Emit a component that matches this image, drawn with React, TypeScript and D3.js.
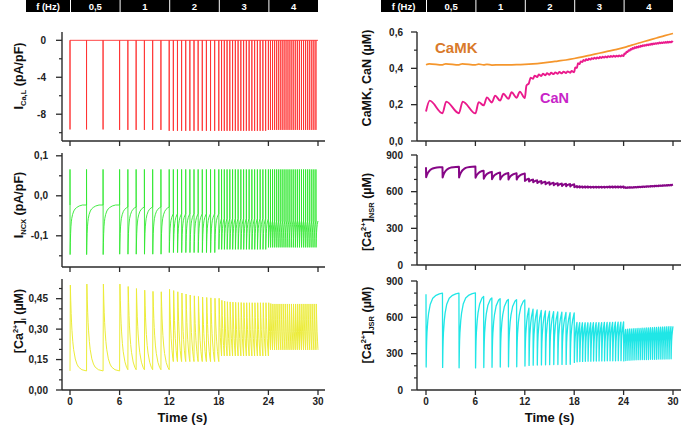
import React from 'react';
import * as d3 from 'd3';

type Pt = [number, number];

// stimulation protocol
const segStarts = [0, 6, 12, 18, 24];
const segFreqs = [0.5, 1, 2, 3, 4];
const freqLabels = ['0,5', '1', '2', '3', '4'];
const timeTicks = [0, 6, 12, 18, 24, 30];
const tEnd = 30;

// I_CaL: spike minimum for each frequency step
const icalPeak = [-9.65, -9.7, -9.8, -9.8, -9.7];

// I_NCX: spike top, spike bottom and level reached before the next beat
const ncxMax = [0.066, 0.066, 0.066, 0.066, 0.066];
const ncxMin = [-0.147, -0.146, -0.142, -0.134, -0.129];
const ncxRest = [-0.023, -0.028, -0.045, -0.057, -0.063];
const ncxRecT = [0, 0.03, 0.06, 0.1, 0.15, 0.2, 0.3, 0.45, 0.6, 0.8, 1.1, 1.5, 2.0];
const ncxRecF = [0, 0.25, 0.42, 0.56, 0.66, 0.73, 0.81, 0.88, 0.92, 0.95, 0.98, 1, 1];

// [Ca2+]i: peak of every beat, diastolic level per step
const caiPeak = [
  [0.517, 0.522, 0.522],
  [0.522, 0.51, 0.5, 0.492, 0.486, 0.484],
  [0.496, 0.49, 0.484, 0.478, 0.473, 0.468, 0.464, 0.461, 0.458, 0.456, 0.454, 0.452],
  [0.452, 0.442, 0.438, 0.435, 0.434, 0.433, 0.432, 0.431, 0.431, 0.43, 0.43, 0.43, 0.43, 0.43, 0.43, 0.43, 0.43, 0.43],
  [0.43, 0.426, 0.424, 0.424, 0.424, 0.424, 0.424, 0.424, 0.424, 0.424, 0.424, 0.424, 0.424, 0.424, 0.424, 0.424, 0.424, 0.424, 0.424, 0.424, 0.424, 0.424, 0.424, 0.424],
];
const caiTrough = [0.094, 0.1, 0.14, 0.168, 0.198];
const caiRelT = [0, 0.05, 0.1, 0.15, 0.2, 0.3, 0.4, 0.6, 0.8, 1.0, 1.4, 2.0];
const caiRelF = [0, 0.18, 0.33, 0.44, 0.53, 0.66, 0.75, 0.86, 0.92, 0.955, 0.985, 1];

// CaMK trace
const camkT = [0, 0.4, 2, 2.4, 4, 4.4, 6, 6.4, 7, 7.4, 8, 9, 10, 11, 12, 13, 14, 15, 16, 17, 18, 19, 20, 21, 22, 23, 24, 25, 26, 27, 28, 29, 30];
const camkV = [0.42, 0.425, 0.419, 0.425, 0.419, 0.425, 0.419, 0.423, 0.419, 0.422, 0.418, 0.419, 0.419, 0.42, 0.422, 0.425, 0.429, 0.434, 0.44, 0.446, 0.454, 0.463, 0.473, 0.483, 0.493, 0.503, 0.514, 0.528, 0.541, 0.554, 0.567, 0.58, 0.592];

// CaN: level before each beat and its peak
const canRise = [0.45, 0.4, 0.2, 0.12, 0.1];
const canPre = [
  [0.162, 0.153, 0.153],
  [0.152, 0.196, 0.212, 0.222, 0.232, 0.238],
  [0.236, 0.318, 0.343, 0.352, 0.358, 0.362, 0.365, 0.368, 0.37, 0.372, 0.374, 0.376],
  [0.378, 0.402, 0.424, 0.435, 0.441, 0.445, 0.448, 0.451, 0.453, 0.455, 0.457, 0.459, 0.46, 0.462, 0.463, 0.464, 0.465, 0.466],
  [0.468, 0.48, 0.49, 0.497, 0.503, 0.508, 0.512, 0.515, 0.518, 0.521, 0.523, 0.525, 0.527, 0.529, 0.531, 0.533, 0.535, 0.536, 0.538, 0.539, 0.54, 0.541, 0.542, 0.543],
];
const canPeak = [
  [0.222, 0.217, 0.217],
  [0.214, 0.24, 0.25, 0.26, 0.268, 0.272],
  [0.305, 0.348, 0.36, 0.366, 0.37, 0.373, 0.376, 0.378, 0.38, 0.382, 0.383, 0.385],
  [0.405, 0.428, 0.438, 0.446, 0.45, 0.453, 0.456, 0.458, 0.46, 0.462, 0.464, 0.465, 0.467, 0.468, 0.469, 0.47, 0.471, 0.472],
  [0.482, 0.492, 0.5, 0.507, 0.512, 0.516, 0.519, 0.522, 0.525, 0.527, 0.529, 0.531, 0.533, 0.535, 0.537, 0.539, 0.54, 0.542, 0.543, 0.544, 0.545, 0.546, 0.547, 0.548],
];
const canFinal = 0.545;

// [Ca2+]NSR: value before each beat and just after it
const nsrPre = [
  [800, 800, 803],
  [805, 772, 762, 756, 752, 750],
  [748, 706, 699, 693, 687, 682, 677, 673, 669, 666, 664, 662],
  [660, 646, 644, 643, 642, 642, 641, 641, 641, 641, 641, 641, 641, 642, 642, 642, 642, 642],
  [642, 636, 636, 637, 637, 638, 639, 640, 641, 642, 643, 644, 645, 646, 647, 648, 649, 650, 651, 652, 653, 654, 655, 656],
];
const nsrPost = [
  [718, 716, 716],
  [714, 706, 702, 700, 700, 700],
  [688, 684, 677, 671, 666, 661, 657, 653, 650, 647, 645, 643],
  [636, 634, 634, 633, 633, 633, 633, 633, 633, 633, 633, 633, 634, 634, 634, 634, 634, 634],
  [632, 630, 631, 631, 632, 633, 634, 635, 636, 637, 638, 639, 640, 641, 642, 643, 644, 645, 646, 647, 648, 649, 650, 651],
];
const nsrFinal = 658;
const nsrRecT = [0, 0.05, 0.1, 0.2, 0.3, 0.45, 0.6, 0.8, 1.0, 1.3, 1.6, 2.0];
const nsrRecF = [0, 0.13, 0.25, 0.42, 0.55, 0.69, 0.79, 0.88, 0.93, 0.97, 0.99, 1];

// [Ca2+]JSR: value before each beat and just after release
const jsrPre = [
  [790, 800, 800],
  [802, 772, 760, 753, 748, 746],
  [744, 675, 668, 662, 657, 653, 650, 647, 644, 642, 640, 638],
  [636, 558, 556, 555, 555, 555, 555, 556, 556, 557, 557, 558, 558, 559, 559, 560, 560, 561],
  [562, 500, 502, 504, 505, 506, 507, 508, 509, 510, 511, 512, 513, 514, 515, 516, 517, 518, 519, 520, 521, 522, 523, 524],
];
const jsrPost = [
  [190, 186, 183],
  [182, 185, 188, 190, 191, 192],
  [198, 203, 205, 206, 207, 208, 209, 210, 210, 211, 211, 212],
  [228, 233, 235, 236, 237, 238, 238, 239, 239, 240, 240, 240, 241, 241, 241, 241, 242, 242],
  [240, 243, 245, 246, 247, 248, 249, 250, 250, 251, 251, 252, 252, 253, 253, 254, 254, 255, 255, 256, 256, 257, 257, 258],
];
const jsrFinal = 525;
const jsrRecT = [0, 0.03, 0.06, 0.1, 0.2, 0.3, 0.5, 0.8, 1.2, 1.6, 2.0];
const jsrRecF = [0, 0.22, 0.36, 0.47, 0.63, 0.73, 0.85, 0.93, 0.97, 0.99, 1];

// tick labels
const icalTicks = [0, -4, -8];
const icalMinor = [-2, -6, -10];
const ncxTicks = [0.1, 0, -0.1];
const ncxMinor = [0.05, -0.05, -0.15];
const caiTicks = [0, 0.15, 0.3, 0.45];
const caiMinor = [0.05, 0.1, 0.2, 0.25, 0.35, 0.4, 0.5];
const camTicks = [0, 0.2, 0.4, 0.6];
const camMinor = [0.1, 0.3, 0.5];
const srTicks = [0, 300, 600, 900];
const srMinor = [100, 200, 400, 500, 700, 800];

// ---- build traces ----
interface Beat { t: number; T: number; seg: number; i: number }
const beats: Beat[] = [];
segStarts.forEach((s, k) => {
  const n = Math.round(6 * segFreqs[k]);
  for (let i = 0; i < n; i++) beats.push({ t: s + i / segFreqs[k], T: 1 / segFreqs[k], seg: k, i });
});

function relax(out: Pt[], t0: number, t1: number, from: number, to: number, tt: number[], ff: number[]) {
  const F = d3.scaleLinear().domain(tt).range(ff).clamp(true);
  const fEnd = F(t1 - t0) || 1;
  for (const dt of tt) {
    if (dt > 0 && t0 + dt < t1 - 1e-6) out.push([t0 + dt, from + ((to - from) * F(dt)) / fEnd]);
  }
  out.push([t1, to]);
}

const icalPts: Pt[] = [];
beats.forEach(b => icalPts.push([b.t, 0], [b.t, icalPeak[b.seg]], [b.t, 0]));
icalPts.push([tEnd, 0]);

const ncxPts: Pt[] = [[0, ncxRest[0]]];
beats.forEach(b => {
  const tm = b.t + 0.012;
  ncxPts.push([b.t, ncxMax[b.seg]], [tm, ncxMin[b.seg]]);
  relax(ncxPts, tm, b.t + b.T, ncxMin[b.seg], ncxRest[b.seg], ncxRecT, ncxRecF);
});

const caiPts: Pt[] = [[0, caiTrough[0]]];
beats.forEach(b => {
  const tp = b.t + 0.04;
  const pk = caiPeak[b.seg][b.i];
  caiPts.push([tp, pk]);
  relax(caiPts, tp, b.t + b.T, pk, caiTrough[b.seg], caiRelT, caiRelF);
});

function srTrace(pre: number[][], post: number[][], fin: number, tt: number[], ff: number[]) {
  const preAll = pre.flat();
  const postAll = post.flat();
  const pts: Pt[] = [];
  beats.forEach((b, j) => {
    const next = j + 1 < beats.length ? preAll[j + 1] : fin;
    pts.push([b.t, preAll[j]], [b.t + 0.02, postAll[j]]);
    relax(pts, b.t + 0.02, b.t + b.T, postAll[j], next, tt, ff);
  });
  return pts;
}
const nsrPts = srTrace(nsrPre, nsrPost, nsrFinal, nsrRecT, nsrRecF);
const jsrPts = srTrace(jsrPre, jsrPost, jsrFinal, jsrRecT, jsrRecF);

const canPreAll = canPre.flat();
const canPeakAll = canPeak.flat();
const canPts: Pt[] = [];
beats.forEach((b, j) => {
  canPts.push([b.t, canPreAll[j]], [b.t + canRise[b.seg], canPeakAll[j]]);
});
canPts.push([tEnd, canFinal]);

const camkPts: Pt[] = camkT.map((t, i) => [t, camkV[i]]);

// ---- layout ----
const FONT = 'Arial, "Liberation Sans", sans-serif';
const AX = '#2a2a2a';
const xL = d3.scaleLinear().domain([0, tEnd]).range([70, 318]);
const xR = d3.scaleLinear().domain([0, tEnd]).range([426, 673]);

const comma = (dec: number) => (v: number) => (Math.abs(v) < 1e-9 ? 0 : v).toFixed(dec).replace('.', ',');

interface AxesProps {
  axisX: number; xEnd: number; top: number; y: d3.ScaleLinear<number, number>;
  x: d3.ScaleLinear<number, number>; major: number[]; minor: number[];
  fmt: (v: number) => string; labelRight: number; xLabels?: boolean;
}

const Axes = ({ axisX, xEnd, top, y, x, major, minor, fmt, labelRight, xLabels }: AxesProps) => {
  const bottom = y.range()[0];
  return (
    <g>
      <line x1={axisX} x2={axisX} y1={top} y2={bottom} stroke={AX} strokeWidth={1.4} />
      <line x1={axisX} x2={xEnd} y1={bottom} y2={bottom} stroke={AX} strokeWidth={1.4} />
      {minor.map(v => (
        <line key={'m' + v} x1={axisX - 3} x2={axisX} y1={y(v)} y2={y(v)} stroke={AX} strokeWidth={1.2} />
      ))}
      {major.map(v => (
        <g key={'M' + v}>
          <line x1={axisX - 6} x2={axisX} y1={y(v)} y2={y(v)} stroke={AX} strokeWidth={1.3} />
          <text x={labelRight} y={y(v) + 3.5} textAnchor="end" fontSize={10} fontWeight="bold" fill="#222" fontFamily={FONT}>
            {fmt(v)}
          </text>
        </g>
      ))}
      {timeTicks.map(t => (
        <g key={'x' + t}>
          <line x1={x(t)} x2={x(t)} y1={bottom} y2={bottom + 5} stroke={AX} strokeWidth={1.3} />
          {xLabels && (
            <text x={x(t)} y={bottom + 15} textAnchor="middle" fontSize={10} fontWeight="bold" fill="#222" fontFamily={FONT}>
              {t}
            </text>
          )}
        </g>
      ))}
    </g>
  );
};

const FreqBar = ({ x, left }: { x: d3.ScaleLinear<number, number>; left: number }) => (
  <g fontFamily={FONT} fontWeight="bold" fontSize={9.5} fill="#fff">
    <rect x={left} y={0} width={x(0) - left} height={12} fill="#000" />
    <text x={(left + x(0)) / 2} y={9.5} textAnchor="middle" fill="#fff">f (Hz)</text>
    {segStarts.map((s, k) => {
      const x0 = x(s) + 1;
      const x1 = x(k + 1 < segStarts.length ? segStarts[k + 1] : tEnd);
      return (
        <g key={s}>
          <rect x={x0} y={0} width={x1 - x0} height={12} fill="#000" />
          <text x={(x0 + x1) / 2} y={9.5} textAnchor="middle" fill="#fff">{freqLabels[k]}</text>
        </g>
      );
    })}
  </g>
);

const Trace = ({ pts, x, y, color, width, curve }: { pts: Pt[]; x: any; y: any; color: string; width: number; curve?: any }) => {
  const d = d3.line<Pt>().x(p => x(p[0])).y(p => y(p[1])).curve(curve || d3.curveLinear)(pts) || '';
  return <path d={d} fill="none" stroke={color} strokeWidth={width} strokeLinejoin="round" />;
};

const YTitle = ({ x, y, children }: { x: number; y: number; children: React.ReactNode }) => (
  <text transform={`translate(${x},${y}) rotate(-90)`} textAnchor="middle" fontSize={12.5} fontWeight="bold" fill="#111" fontFamily={FONT}>
    {children}
  </text>
);

export default function App() {
  // left column scales
  const yIcal = d3.scaleLinear().domain([-10.9, 0.9]).range([141, 32]);
  const yNcx = d3.scaleLinear().domain([-0.178, 0.107]).range([267, 153]);
  const yCai = d3.scaleLinear().domain([0, 0.547]).range([390, 279]);
  // right column scales
  const yCam = d3.scaleLinear().domain([0, 0.6]).range([141, 32]);
  const yNsr = d3.scaleLinear().domain([0, 900]).range([265, 155]);
  const yJsr = d3.scaleLinear().domain([0, 900]).range([390, 281]);

  return (
    <svg width={685} height={428} style={{ position: 'absolute', left: 0, top: 0, background: '#fff' }}>
      <rect width={685} height={428} fill="#fff" />
      <FreqBar x={xL} left={26} />
      <FreqBar x={xR} left={381} />

      {/* left column */}
      <Axes axisX={62} xEnd={325} top={32} y={yIcal} x={xL} major={icalTicks} minor={icalMinor} fmt={v => String(v)} labelRight={46} />
      <Axes axisX={62} xEnd={325} top={153} y={yNcx} x={xL} major={ncxTicks} minor={ncxMinor} fmt={comma(1)} labelRight={48} />
      <Axes axisX={62} xEnd={325} top={279} y={yCai} x={xL} major={caiTicks} minor={caiMinor} fmt={comma(2)} labelRight={48} xLabels />
      <Trace pts={icalPts} x={xL} y={yIcal} color="#ff3030" width={0.9} />
      <Trace pts={ncxPts} x={xL} y={yNcx} color="#30e830" width={0.9} />
      <Trace pts={caiPts} x={xL} y={yCai} color="#ecec38" width={1} />

      <YTitle x={23} y={76}>
        I<tspan fontSize={7.5} dy={3}>Ca,L</tspan><tspan dy={-3}> (pA/pF)</tspan>
      </YTitle>
      <YTitle x={23} y={205}>
        I<tspan fontSize={7.5} dy={3}>NCX</tspan><tspan dy={-3}> (pA/pF)</tspan>
      </YTitle>
      <YTitle x={23} y={321}>
        [Ca<tspan fontSize={7.5} dy={-5}>2+</tspan><tspan dy={5}>]</tspan><tspan fontSize={7.5} dy={3}>i</tspan><tspan dy={-3}> (µM)</tspan>
      </YTitle>
      <text x={xL(13.6)} y={422} textAnchor="middle" fontSize={13} fontWeight="bold" fill="#111" fontFamily={FONT}>Time (s)</text>

      {/* right column */}
      <Axes axisX={417} xEnd={681} top={32} y={yCam} x={xR} major={camTicks} minor={camMinor} fmt={comma(1)} labelRight={403} />
      <Axes axisX={417} xEnd={681} top={155} y={yNsr} x={xR} major={srTicks} minor={srMinor} fmt={v => String(v)} labelRight={403} />
      <Axes axisX={417} xEnd={681} top={281} y={yJsr} x={xR} major={srTicks} minor={srMinor} fmt={v => String(v)} labelRight={403} xLabels />
      <Trace pts={camkPts} x={xR} y={yCam} color="#f5962c" width={1.7} curve={d3.curveMonotoneX} />
      <Trace pts={canPts} x={xR} y={yCam} color="#ea1a8c" width={1.9} curve={d3.curveMonotoneX} />
      <Trace pts={nsrPts} x={xR} y={yNsr} color="#860686" width={2} />
      <Trace pts={jsrPts} x={xR} y={yJsr} color="#20e6e6" width={1.3} />

      <text x={435} y={53} fontSize={15} fontWeight="bold" fill="#d97a2b" fontFamily={FONT}>CaMK</text>
      <text x={540} y={103} fontSize={14.5} fontWeight="bold" fill="#c824c8" fontFamily={FONT}>CaN</text>

      <YTitle x={371} y={78}>CaMK, CaN (µM)</YTitle>
      <YTitle x={371} y={212}>
        [Ca<tspan fontSize={7.5} dy={-5}>2+</tspan><tspan dy={5}>]</tspan><tspan fontSize={7.5} dy={3}>NSR</tspan><tspan dy={-3}> (µM)</tspan>
      </YTitle>
      <YTitle x={371} y={325}>
        [Ca<tspan fontSize={7.5} dy={-5}>2+</tspan><tspan dy={5}>]</tspan><tspan fontSize={7.5} dy={3}>JSR</tspan><tspan dy={-3}> (µM)</tspan>
      </YTitle>
      <text x={xR(15)} y={422} textAnchor="middle" fontSize={13} fontWeight="bold" fill="#111" fontFamily={FONT}>Time (s)</text>
    </svg>
  );
}
